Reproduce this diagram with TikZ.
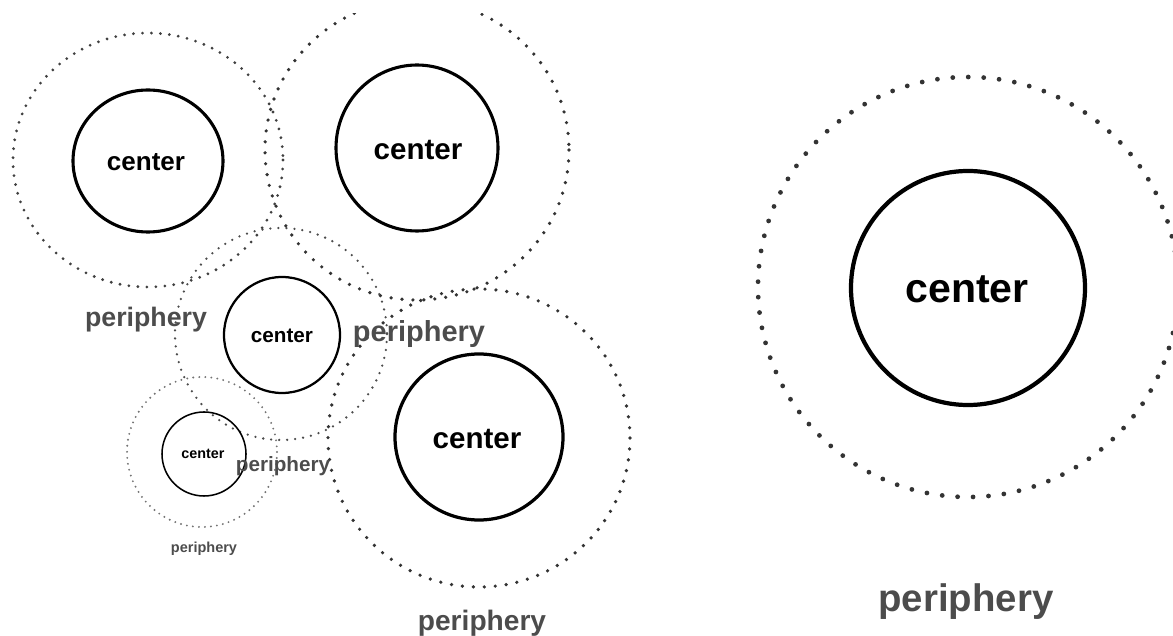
\documentclass[tikz,border=0pt]{standalone}
\usepackage{fontspec}
\setmainfont{Liberation Sans}
\tikzset{
    coreline/.style={draw=black, line width=#1},
    periline/.style n args={3}{line cap=round, dash pattern=on 0pt off #2, line width=#1, draw=#3},
    coretext/.style={font=\bfseries\fontsize{#1}{#1}\selectfont, text=black, inner sep=0pt},
    peritext/.style={font=\bfseries\fontsize{#1}{#1}\selectfont, text=black!70, inner sep=0pt}
}

\begin{document}
\begin{tikzpicture}[x=0.025cm, y=-0.025cm]

        \useasboundingbox (0,0) rectangle (1173,636);

        % ================= periphery rings =================
        \draw[periline={2.2pt}{6.4pt}{black!75}] (148,160) ellipse (135 and 127);
        \begin{scope}
            \clip (0,14) rectangle (1173,636);
            \draw[periline={2.6pt}{7.8pt}{black!80}] (417,150) ellipse (152 and 150);
        \end{scope}
        \draw[periline={1.8pt}{5.7pt}{black!70}] (281,334) circle (106);
        \draw[periline={1.5pt}{4.3pt}{black!55}] (202,452) circle (75);
        \draw[periline={2.6pt}{7.8pt}{black!80}] (479,438) ellipse (151 and 149);
        \draw[periline={3.4pt}{11pt}{black!80}] (968,287) circle (210);

        % ================= center circles =================
        \draw[coreline=2.2pt] (148,161) ellipse (75 and 71);
        \draw[coreline=2.2pt] (417,148) ellipse (81 and 83);
        \draw[coreline=1.6pt] (282,335) circle (58);
        \draw[coreline=1.1pt] (204,454) circle (42);
        \draw[coreline=2.3pt] (479,437) ellipse (84 and 83);
        \draw[coreline=3pt] (968,288) circle (117);

        % ================= labels =================
        \node[coretext=18.5] (coreA) at (146,162) {center};
        \node[coretext=21] (coreB) at (418,150) {center};
        \node[coretext=14.7] (coreC) at (282,336) {center};
        \node[coretext=10.2] (coreD) at (203,454) {center};
        \node[coretext=21] (coreE) at (477,439) {center};
        \node[coretext=29.2] (coreF) at (967,289) {center};

        \node[peritext=19] (periA) at (146,320) {periphery};
        \node[peritext=20.6] (periB) at (419,334) {periphery};
        \node[peritext=14.7] (periC) at (283,466) {periphery};
        \node[peritext=10.3] (periD) at (204,549) {periphery};
        \node[peritext=20] (periE) at (482,623) {periphery};
        \node[peritext=27.3] (periF) at (966,602) {periphery};

\end{tikzpicture}
\end{document}
